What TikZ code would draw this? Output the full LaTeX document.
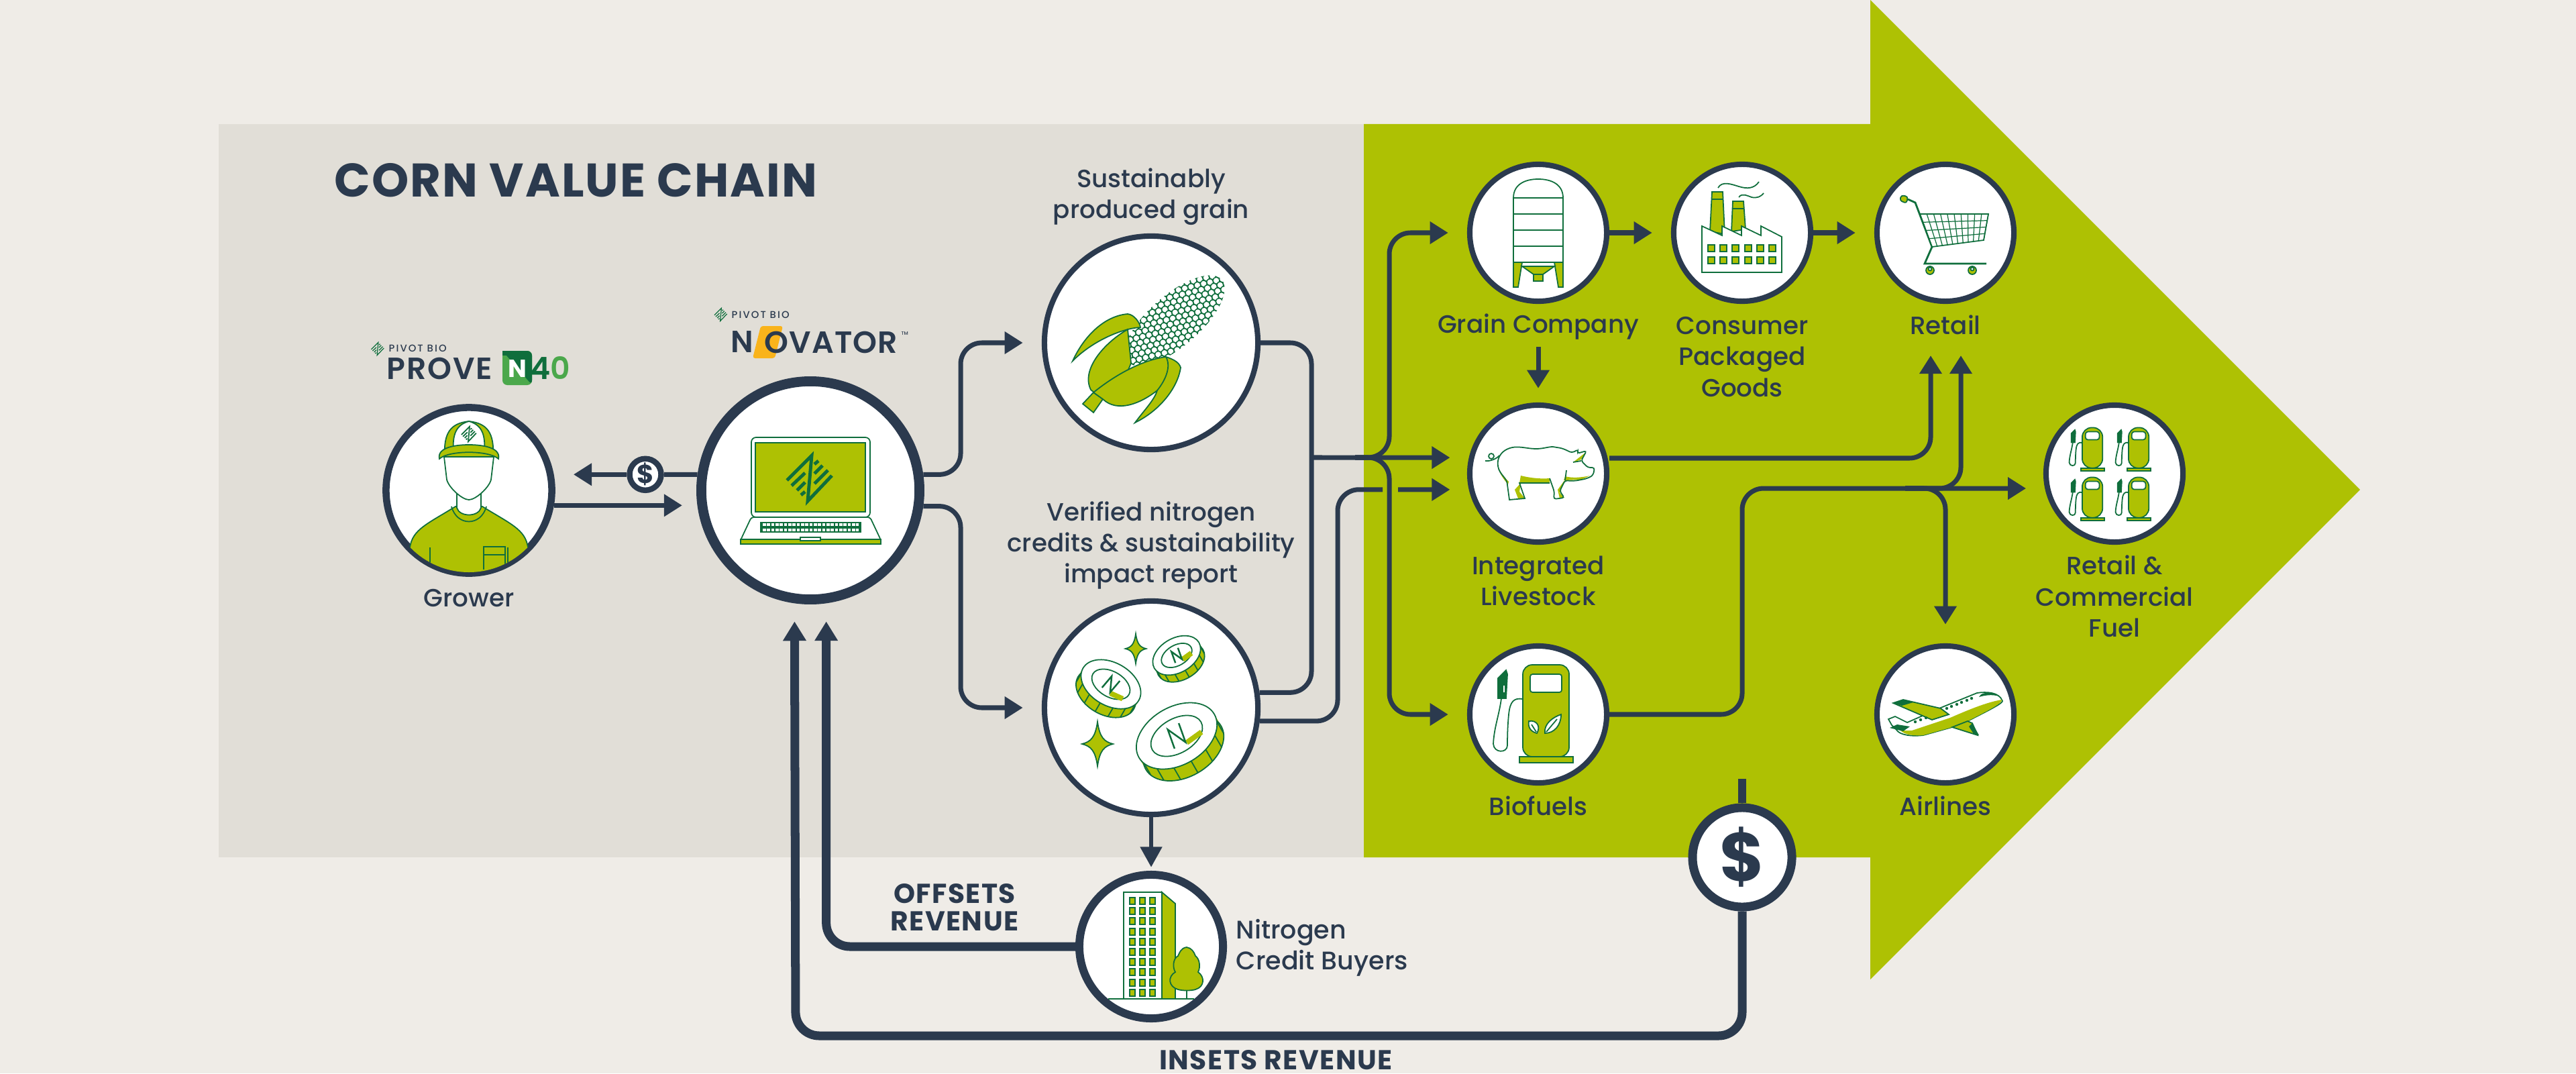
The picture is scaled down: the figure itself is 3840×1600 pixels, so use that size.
\documentclass[tikz,border=0pt]{standalone}
\usepackage{fontspec}
\setmainfont{Poppins}
\newfontfamily\medfont{Poppins Medium}
\newfontfamily\semifont{Poppins SemiBold}
\usetikzlibrary{arrows.meta,calc}
\definecolor{paper}{HTML}{EFECE7}
\definecolor{panel}{HTML}{E1DED7}
\definecolor{lime}{HTML}{AEC103}
\definecolor{navy}{HTML}{2B3A4E}
\definecolor{leaf}{HTML}{0F6E3C}
\definecolor{midgreen}{HTML}{4BA84B}
\definecolor{sun}{HTML}{F9B31B}
\tikzset{
  stage/.style={circle,draw=navy,fill=white,line width=2.3pt,minimum size=2.04cm,inner sep=0pt},
  route/.style={draw=navy,line width=2pt,rounded corners=9pt},
  flow/.style={route,-{Triangle[length=7.7pt,width=9.1pt]}},
  gapped/.style={shorten >=8pt},
  revenue/.style={draw=navy,line width=3.7pt,rounded corners=10pt,shorten >=7.7pt,-{Triangle[length=8.2pt,width=9.4pt]}},
  lbl/.style={font=\medfont\fontsize{10.6}{13.2}\selectfont,text=navy,align=center,inner sep=0pt},
  boldlbl/.style={font=\bfseries\fontsize{11.6}{11.7}\selectfont\addfontfeatures{LetterSpace=3.6},text=navy,align=center,inner sep=0pt},
  ink/.style={draw=leaf,line width=.5pt},
  pics/pivotmark/.style={code={
    \draw[leaf,line cap=butt,line join=miter] (-34,3) -- (3,-34) -- (-3,34) -- (33,-4);
    \draw[leaf,line cap=butt] (-27,11) -- (-7,-8) (-19,18) -- (-7,6) (-13,25) -- (-7,20);
    \draw[leaf,line cap=butt] (7,-21) -- (13,-26) (7,-7) -- (19,-19) (7,8) -- (27,-12);
  }},
  pics/grower/.style={code={
    \begin{scope}
    \clip (0,0) circle[radius=122];
    \path[ink,fill=lime] (-88,130) -- (-88,85) .. controls (-84,58) and (-62,50) .. (-20,24) -- (20,24) .. controls (62,50) and (84,58) .. (88,85) -- (88,130) -- cycle;
    \draw[ink] (-26,24) .. controls (-18,54) and (18,54) .. (26,24);
    \draw[ink] (-58,85) -- (-58,130) (58,85) -- (58,130);
    \draw[ink] (22,84) rectangle (54,96) (22,96) -- (22,118) (54,96) -- (54,118);
    \end{scope}
    \path[ink,fill=white] (-18,5) -- (-18,26) .. controls (-14,40) and (14,40) .. (18,26) -- (18,5) -- cycle;
    \path[ink,fill=white] (-37,-50) -- (-33,-16) .. controls (-30,-4) and (-10,14) .. (0,14) .. controls (10,14) and (30,-4) .. (33,-16) -- (37,-50) -- cycle;
    \path[ink,fill=lime] (-36,-50) .. controls (-38,-85) and (-28,-100) .. (0,-103) .. controls (28,-100) and (38,-85) .. (36,-50) -- cycle;
    \path[ink,fill=white] (-23,-58) .. controls (-25,-85) and (-18,-98) .. (0,-103) .. controls (18,-98) and (25,-85) .. (23,-58) -- cycle;
    \path[ink,fill=lime] (-44,-47) .. controls (-48,-64) and (-20,-68) .. (0,-68) .. controls (20,-68) and (48,-64) .. (44,-47) .. controls (30,-60) and (-30,-60) .. (-44,-47) -- cycle;
    \pic[scale=.33,line width=.5pt] at (0,-84) {pivotmark};
  }},
  pics/laptop/.style={code={
    \path[ink,fill=white,rounded corners=2pt] (-88,40) -- (-88,-79) -- (89,-79) -- (89,40) -- cycle;
    \path[ink,fill=lime] (-82,-71) rectangle (82,32);
    \path[ink,fill=white,rounded corners=1pt] (-88,40) -- (89,40) -- (105,74) -- (105,80) -- (-104,80) -- (-104,74) -- cycle;
    \path[ink,fill=lime] (-104,73) rectangle (105,80);
    \path[draw=leaf,fill=white,line width=.5pt] (-15,70) rectangle (15,75);
    \fill[leaf] (-75,47) rectangle (76,63);
    \draw[white,line width=1.1pt,dash pattern=on 1.3pt off .5pt] (-71,51) -- (72,51) (-71,59) -- (72,59);
    \pic[line width=1.4pt] at (-1,-18) {pivotmark};
  }},
  pics/corn/.style={code={
    \begin{scope}[shift={(35,-33)},rotate=41]
    \clip (0,0) circle[x radius=93,y radius=38];
    \foreach \i in {-11,...,11}\foreach \j in {-5,...,5}
      \path[draw=leaf,fill=white,line width=.4pt] ({\i*8.6},{\j*8.8+mod(\i+11,2)*4.4}) circle[radius=5];
    \end{scope}
    \path[ink,fill=lime] (-117,27) .. controls (-100,-10) and (-70,-40) .. (-35,-43) .. controls (-25,-42) and (-17,-30) .. (-16,-23) .. controls (-40,-22) and (-85,-5) .. (-117,27) -- cycle;
    \path[ink,fill=lime] (-35,-20) .. controls (-70,0) and (-105,40) .. (-90,70) .. controls (-70,90) and (-40,60) .. (-30,30) -- cycle;
    \path[ink,fill=lime] (-102,91) -- (-86,74) -- (-72,84) -- (-86,104) -- cycle;
    \path[ink,fill=lime] (-86,74) .. controls (-50,45) and (-10,25) .. (22,21) .. controls (35,25) and (42,30) .. (44,37) .. controls (40,65) and (15,100) .. (-24,119) .. controls (-10,100) and (5,85) .. (9,71) .. controls (-15,90) and (-50,105) .. (-72,84) -- cycle;
    \draw[ink] (22,21) .. controls (30,35) and (22,55) .. (9,71);
  }},
  pics/coin/.style={code={
    \fill[lime] (-48,0) rectangle (48,15);
    \path[ink,fill=lime] (0,15) circle[x radius=48,y radius=32];
    \foreach \a in {15,40,...,165}
      \draw[ink] ({48*cos(\a)},{32*sin(\a)}) -- ({48*cos(\a)},{32*sin(\a)+15});
    \path[ink,fill=white] (0,0) circle[x radius=48,y radius=32];
    \draw[ink] (0,0) circle[x radius=31,y radius=19];
    \path[draw=lime,line width=2.2pt] (6,12) -- (26,10);
    \draw[leaf,line width=.7pt] (-9,11) -- (-5,-11) -- (5,11) -- (9,-11);
  }},
  pics/sparkle/.style={code={
    \path[ink,fill=lime] (0,-10) .. controls (1,-3) and (3,-1) .. (7,0) .. controls (3,1) and (1,3) .. (0,10) .. controls (-1,3) and (-3,1) .. (-7,0) .. controls (-3,-1) and (-1,-3) .. (0,-10) -- cycle;
  }},
  pics/silo/.style={code={
    \path[ink,fill=white] (-37,44) -- (-37,-52) .. controls (-37,-72) and (-20,-80) .. (0,-80) .. controls (20,-80) and (37,-72) .. (37,-52) -- (37,44) -- cycle;
    \foreach \y in {-52,-28,-4,20}{\draw[ink] (-37,\y) -- (37,\y);}
    \path[ink,fill=lime] (-37,44) -- (-24,44) -- (-30,81) -- (-37,81) -- cycle;
    \path[ink,fill=lime] (37,44) -- (24,44) -- (30,81) -- (37,81) -- cycle;
    \draw[ink] (-37,44) -- (37,44);
    \path[ink,fill=lime] (-24,50) -- (24,50) -- (7,62) -- (-7,62) -- cycle;
    \path[ink,fill=lime] (-7,62) rectangle (7,72);
  }},
  pics/factory/.style={code={
    \path[ink,fill=lime] (-45,-61) -- (-29,-61) -- (-26,2) -- (-48,-2) -- cycle;
    \path[ink,fill=lime] (-14,-47) -- (2,-47) -- (5,-5) -- (-16,-2) -- cycle;
    \draw[ink] (-46,-50) -- (-28,-50) (-15,-36) -- (3,-36);
    \path[ink,fill=white] (-60,-10) -- (-30,4) -- (-30,-10) -- (-1,4) -- (-1,-10) -- (28,4) -- (28,-10) -- (59,6) -- (59,59) -- (-60,59) -- cycle;
    \foreach \x in {-46,-28,-10,9,27,45}\foreach \y in {23,41}
      \path[ink,fill=lime] (\x-5,\y-5) rectangle (\x+5,\y+5);
    \draw[ink] (-36,-67) .. controls (-30,-78) and (-15,-72) .. (-5,-69) .. controls (8,-65) and (18,-66) .. (25,-76);
    \draw[ink] (-5,-53) .. controls (0,-60) and (8,-55) .. (14,-53) .. controls (22,-51) and (28,-54) .. (32,-59);
  }},
  pics/cart/.style={code={
    \draw[ink,line width=.8pt] (-56,-50) -- (-45,-45) -- (-20,21) -- (-31,46) -- (61,46);
    \path[ink,fill=white] (-38,-28) -- (64,-28) -- (57,11) -- (-20,21) -- cycle;
    \foreach \t in {0,.1,...,1.01}{\draw[leaf,line width=.35pt] ({-38+\t*102},-28) -- ({-20+\t*77},{21-\t*10});}
    \foreach \t in {.25,.5,.75}{\draw[leaf,line width=.35pt] ({-38+\t*18},{-28+\t*49}) -- ({64-\t*7},{-28+\t*39});}
    \path[ink,fill=lime,rounded corners=1pt] (-66,-56) -- (-56,-54) -- (-58,-44) -- (-68,-48) -- cycle;
    \foreach \x in {-23,40}{\path[ink,fill=lime] (\x,56) circle[radius=6];\path[ink,fill=white] (\x,54) circle[radius=2.5];}
  }},
  pics/pig/.style={code={
    \fill[lime] (-60,-11) .. controls (-56,0) and (-50,6) .. (-44,12) -- (-45,16) .. controls (-52,8) and (-58,0) .. (-60,-11) -- cycle;
    \fill[lime] (-26,3) .. controls (-10,7) and (5,8) .. (17,7) -- (17,14) -- (-28,14) -- cycle;
    \fill[lime] (40,4) .. controls (50,7) and (65,6) .. (77,3) -- (64,9) -- (38,10) -- cycle;
    \fill[lime] (-35,24) -- (-26,14) -- (-28,27) -- (-20,37) -- (-30,37) -- cycle;
    \fill[lime] (29,24) -- (40,9) -- (32,29) -- (39,36) -- (32,37) -- cycle;
    \fill[lime] (52,-17) -- (70,-31) -- (64,-21) -- cycle;
    \draw[ink,rounded corners=1pt] (-60,-11) .. controls (-62,-22) and (-56,-32) .. (-43,-38) .. controls (-30,-41) and (-18,-38) .. (-6,-37) .. controls (8,-37) and (18,-41) .. (27,-39) .. controls (36,-38) and (42,-35) .. (50,-31) -- (60,-36) -- (58,-30) -- (72,-34) -- (64,-19) -- (74,-9) -- (84,-9) -- (82,2) .. controls (76,6) and (70,8) .. (64,9) .. controls (55,11) and (48,11) .. (40,10) -- (32,26) -- (39,36) -- (23,38) -- (24,27) -- (17,7);
    \draw[ink] (17,14) -- (-28,14) -- (-20,37) -- (-43,39) -- (-46,17) .. controls (-46,6) and (-58,2) .. (-60,-11);
    \draw[ink] (52,-17) -- (64,-19) (40,10) -- (42,-5);
    \draw[ink] (-58,-27) .. controls (-62,-22) and (-72,-18) .. (-79,-19);
    \draw[ink] (-70,-26) circle[radius=4];
  }},
  pics/pump/.style={code={
    \path[ink,fill=lime,rounded corners=4pt] (-23,63) -- (-23,-74) -- (46,-74) -- (46,63) -- cycle;
    \path[ink,fill=lime] (-28,63) rectangle (52,72);
    \path[ink,fill=white,rounded corners=1pt] (-12,-60) rectangle (35,-33);
    \draw[ink] (-23,-23) .. controls (-36,-25) and (-42,-20) .. (-44,0) .. controls (-46,20) and (-46,40) .. (-46,46) .. controls (-46,58) and (-66,58) .. (-67,44) .. controls (-66,20) and (-58,0) .. (-55,-24);
    \path[ink,fill=leaf] (-60,-54) -- (-48,-66) -- (-46,-60) -- (-48,-24) -- (-60,-24) -- cycle;
    \path[ink,fill=white] (-53,-44) rectangle (-49,-32);
  }},
  pics/plant/.style={code={
    \path[ink,fill=white] (-14,10) .. controls (-2,8) and (4,18) .. (-2,28) .. controls (-10,26) and (-16,20) .. (-14,10) -- cycle;
    \path[ink,fill=white] (34,0) .. controls (22,4) and (8,14) .. (10,28) .. controls (24,28) and (34,16) .. (34,0) -- cycle;
    \draw[ink] (-10,15) -- (-3,26) (28,7) -- (12,26);
  }},
  pics/plane/.style={code={
    \path[ink,fill=white] (-85,7) -- (-75,3) -- (-57,12) -- (-7,-10) -- (47,-32) .. controls (60,-34) and (80,-34) .. (85,-20) .. controls (85,-16) and (60,-4) .. (33,10) -- (10,19) -- (-33,31) .. controls (-50,33) and (-68,31) .. (-73,23) -- (-80,16) -- cycle;
    \fill[lime] (84,-22) .. controls (60,-18) and (30,-5) .. (7,5) -- (-50,24) -- (-67,24) .. controls (-60,31) and (-45,32) .. (-33,31) -- (10,19) -- (33,10) .. controls (60,-4) and (85,-16) .. (84,-22) -- cycle;
    \path[ink,fill=lime] (-78,-17) -- (-63,-22) -- (-7,-9) -- (5,0) -- (-20,8) -- cycle;
    \fill[leaf] (-78,-17) -- (-63,-22) -- (-48,-18) -- (-65,-13) -- cycle;
    \path[ink,fill=lime] (10,19) -- (48,31) -- (40,13) -- (33,10) -- cycle;
    \fill[leaf] (40,13) -- (50,31) -- (42,29) -- (35,18) -- cycle;
    \fill[leaf] (-83,20) -- (-72,15) -- (-53,18) -- (-63,25) -- cycle;
    \fill[leaf] (50,-26) .. controls (52,-32) and (62,-33) .. (70,-32) .. controls (74,-31) and (78,-29) .. (80,-27) .. controls (70,-30) and (60,-29) .. (50,-26) -- cycle;
    \foreach \x/\y in {2/-9,9/-12,17/-15,24/-18,32/-21,39/-24,-45/11,-37/8,-29/5}{\fill[leaf] (\x,\y) circle[radius=2.2];}
  }},
  pics/tower/.style={code={
    \path[ink,fill=white] (-41,78) -- (-41,-81) -- (16,-81) -- (16,78) -- cycle;
    \path[ink,fill=lime] (16,-81) -- (36,-64) -- (36,78) -- (16,78) -- cycle;
    \foreach \y in {-68,-53,-38,-22,-7,8,23,38,54,69}\foreach \x in {-28,-13,2}
      \path[ink,fill=lime] (\x-4,\y-5) rectangle (\x+4,\y+5);
    \path[draw=leaf,line width=.6pt] (53,40) -- (53,78);
    \path[ink,fill=lime] (53,1) .. controls (44,2) and (42,10) .. (40,14) .. controls (32,18) and (32,32) .. (36,38) .. controls (24,45) and (26,60) .. (40,64) .. controls (46,66) and (60,66) .. (66,64) .. controls (80,60) and (80,45) .. (70,38) .. controls (74,30) and (72,18) .. (66,14) .. controls (64,8) and (60,2) .. (53,1) -- cycle;
    \draw[draw=leaf,line width=.7pt] (-64,78) -- (64,78);
  }}
}
\begin{document}
\begin{tikzpicture}[x=.01cm,y=-.01cm]
\fill[paper] (0,0) rectangle (3840,1600);
\useasboundingbox (0,0) rectangle (3840,1600);
\fill[panel] (326,185) rectangle (2033,1278);
\fill[lime] (2033,185) -- (2788,185) -- (2788,0) -- (3518,730) -- (2788,1460) -- (2788,1278) -- (2033,1278) -- cycle;

% stages
\node[stage,minimum size=2.47cm,line width=3pt] (grower) at (699,731) {};
\node[stage,minimum size=3.25cm,line width=4.2pt] (nova) at (1208,731) {};
\node[stage,minimum size=3.18cm] (corn) at (1716,511) {};
\node[stage,minimum size=3.18cm] (credits) at (1716,1055) {};
\node[stage] (grain) at (2293,347) {};
\node[stage] (consumer) at (2597,347) {};
\node[stage] (retail) at (2900,347) {};
\node[stage] (pig) at (2293,706) {};
\node[stage] (bio) at (2293,1065) {};
\node[stage] (airlines) at (2900,1065) {};
\node[stage] (fuel) at (3152,706) {};
\node[stage,minimum size=2.14cm,line width=3.4pt] (buyers) at (1716,1411) {};
\node[stage,minimum size=1.48cm,line width=3.7pt,font=\bfseries\fontsize{29}{29}\selectfont,text=navy] (bigdollar) at (2597,1278) {\$};
\node[stage,minimum size=.47cm,line width=2.4pt,font=\bfseries\fontsize{11}{11}\selectfont,text=navy] (smalldollar) at (962,707.3) {\$};

% icons
\pic at (grower) {grower};
\pic at (nova) {laptop};
\pic at (corn) {corn};
\pic[rotate=-30] at ($(credits)+(-60,-35)$) {coin};
\pic[rotate=30,scale=.8] at ($(credits)+(38,-78)$) {coin};
\pic[rotate=30,scale=1.35] at ($(credits)+(38,42)$) {coin};
\pic[scale=2.2] at ($(credits)+(-23,-88)$) {sparkle};
\pic[scale=3.3] at ($(credits)+(-80,54)$) {sparkle};
\pic at (grain) {silo};
\pic at (consumer) {factory};
\pic at (retail) {cart};
\pic at (pig) {pig};
\pic at (bio) {pump};
\pic at (bio) {plant};
\pic at (airlines) {plane};
\pic at (buyers) {tower};
\foreach \x/\y in {-38/-36,31/-36,-38/38,31/38}{\pic[scale=.44] at ($(fuel)+(\x,\y)$) {pump};}

% labels
\node[lbl,anchor=west,font=\bfseries\fontsize{20}{21}\selectfont\addfontfeatures{LetterSpace=3}] (title) at (498,269) {CORN VALUE CHAIN};
\node[lbl] (growerlbl) at (699,892) {Grower};
\node[lbl] (cornlbl) at (1716,293) {Sustainably\\produced grain};
\node[lbl] (creditslbl) at (1716,813) {Verified nitrogen\\credits \& sustainability\\impact report};
\node[lbl] (grainlbl) at (2293,487) {Grain Company};
\node[lbl] (consumerlbl) at (2597,532) {Consumer\\Packaged\\Goods};
\node[lbl] (retaillbl) at (2900,484) {Retail};
\node[lbl] (piglbl) at (2293,866) {Integrated\\Livestock};
\node[lbl] (biolbl) at (2293,1201) {Biofuels};
\node[lbl] (airlineslbl) at (2900,1201) {Airlines};
\node[lbl] (fuellbl) at (3152,889) {Retail \&\\Commercial\\Fuel};
\node[lbl,anchor=west,align=left,font=\medfont\fontsize{10.8}{13.2}\selectfont] (buyerslbl) at (1842,1413) {Nitrogen\\Credit Buyers};
\node[boldlbl] (offsets) at (1423,1353) {OFFSETS\\REVENUE};
\node[boldlbl] (insets) at (1902,1580) {INSETS REVENUE};

% logos
\pic[scale=.28,line width=.35pt] at (563,520) {pivotmark};
\node[lbl,anchor=west,font=\medfont\fontsize{4.2}{5}\selectfont\addfontfeatures{LetterSpace=14}] (pivotA) at (579,519) {PIVOT BIO};
\node[lbl,anchor=west,font=\semifont\fontsize{13}{14}\selectfont\addfontfeatures{LetterSpace=4}] (prove) at (576,549) {PROVE};
\fill[midgreen,rounded corners=2pt] (749,523) rectangle (793,574);
\fill[leaf,rounded corners=2pt] (749,523) -- (793,523) -- (793,574) -- cycle;
\fill[leaf] (749,523) rectangle (760,530);
\node[lbl,font=\bfseries\fontsize{10.5}{11}\selectfont,text=white] (provebox) at (771,550) {N};
\node[lbl,anchor=west,font=\semifont\fontsize{13}{14}\selectfont,text=midgreen] (provenum) at (790,549) {\textcolor{leaf}{4}0};
\pic[scale=.28,line width=.35pt] at (1074.5,469) {pivotmark};
\node[lbl,anchor=west,font=\medfont\fontsize{4.2}{5}\selectfont\addfontfeatures{LetterSpace=14}] (pivotB) at (1090,469) {PIVOT BIO};
\fill[sun,rounded corners=1pt] (1134,486) -- (1167,486) -- (1155,534) -- (1122,534) -- cycle;
\node[lbl,anchor=west,font=\semifont\fontsize{13}{14}\selectfont] (novaN) at (1089,510) {N};
\node[lbl,anchor=west,font=\semifont\fontsize{13}{14}\selectfont\addfontfeatures{LetterSpace=2.5}] (novaname) at (1139,510) {OVATOR};
\node[lbl,anchor=west,font=\medfont\fontsize{2}{2}\selectfont] (novatm) at (1343,497) {TM};

% connectors, grower side
\draw[flow,shorten >=6pt] (grower.-10.4) -- (grower.-10.4 -| nova.west);
\draw[route] (nova.172) -- (smalldollar.east);
\draw[flow,shorten >=7.7pt] (smalldollar.west) -- (smalldollar.west -| grower.east);
\draw[flow,gapped] (nova.8) -| (1432,600) |- (corn.west);
\draw[flow,gapped] (nova.-8) -| (1432,900) |- (credits.west);

% connectors, value chain
\coordinate (hub) at (1955,682);
\draw[route] (corn.east) -| (hub) |- (credits.8.8);
\draw[flow,gapped] (hub) -- (pig.167);
\draw[flow,gapped] (2020,682) -| (2071,500) |- (grain.west);
\draw[flow,gapped] (2020,682) -| (2071,900) |- (bio.west);
\draw[route] (credits.-7.4) -| (1994,850) |- (2061,729.8);
\draw[flow,gapped] (2084,729.8) -- (pig.193);
\draw[flow,gapped] (grain.east) -- (consumer.west);
\draw[flow,gapped] (consumer.east) -- (retail.west);
\draw[flow,shorten <=3pt,shorten >=6pt] (grainlbl.south) -- (pig.north);
\coordinate (retailA) at (2878,530);
\coordinate (retailB) at (2923,530);
\draw[flow] (pig.east |- 0,683) -| (retailA);
\draw[flow,gapped] (bio.east) -| (2597,900) |- (fuel.192);
\draw[flow] (2840,728) -| (retailB);
\draw[flow,gapped] (2840,728) -| (airlines.north);
\draw[draw=navy,line width=3.4pt] (bigdollar.north) -- (2597,1161);

% connectors, revenue
\draw[revenue] (bigdollar.south) |- (1186,1544) -- (nova.262.5);
\draw[revenue] (buyers.west) -| (nova.278);
\draw[draw=navy,line width=1.7pt,-{Triangle[length=8.6pt,width=9pt]},shorten >=1.5pt] (credits.south) -- (buyers.north);
\end{tikzpicture}
\end{document}
